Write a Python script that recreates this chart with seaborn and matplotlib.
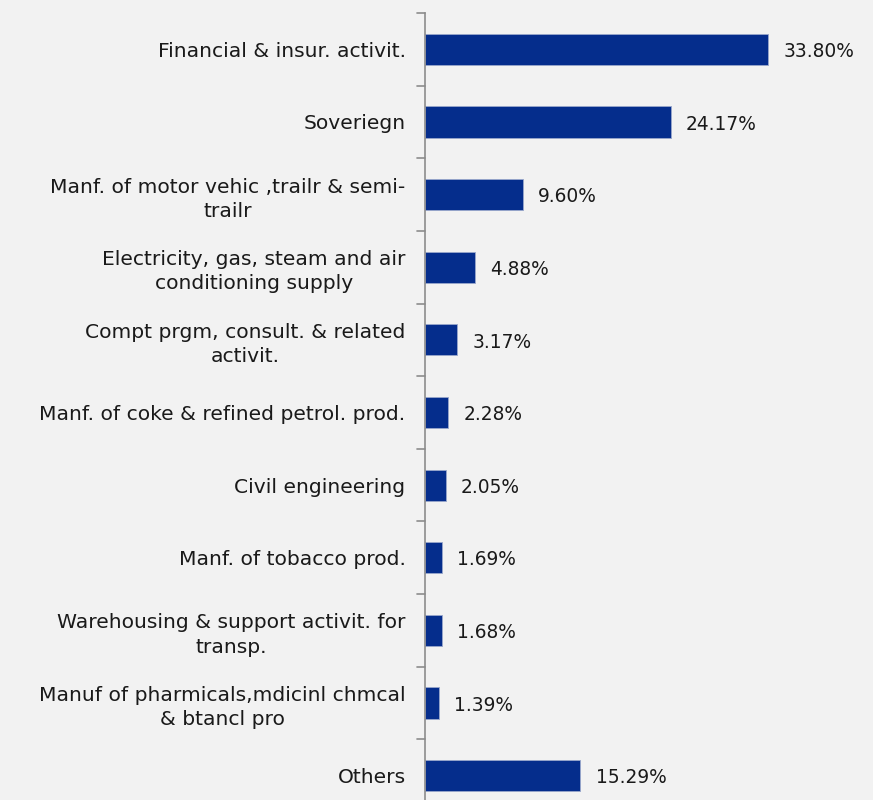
import matplotlib
matplotlib.use("Agg")
import matplotlib.pyplot as plt
import seaborn as sns
import pandas as pd

categories = [
    "Financial & insur. activit.",
    "Soveriegn",
    "Manf. of motor vehic ,trailr & semi-\ntrailr",
    "Electricity, gas, steam and air\nconditioning supply",
    "Compt prgm, consult. & related\nactivit.",
    "Manf. of coke & refined petrol. prod.",
    "Civil engineering",
    "Manf. of tobacco prod.",
    "Warehousing & support activit. for\ntransp.",
    "Manuf of pharmicals,mdicinl chmcal\n& btancl pro",
    "Others",
]
shares = [33.80, 24.17, 9.60, 4.88, 3.17, 2.28, 2.05, 1.69, 1.68, 1.39, 15.29]

df = pd.DataFrame({"sector": categories, "share": shares})

sns.set_theme(style="white")
plt.rcParams["font.family"] = ["DejaVu Sans"]

bg = "#f2f2f2"
bar_color = "#052d8c"
text_color = "#1a1a1a"
fs = 14.6

W, H = 873, 800
fig = plt.figure(figsize=(W / 100, H / 100), dpi=100, facecolor=bg)
# axes spans 425..873 px horizontally, 13..812 px from the top
ax = fig.add_axes([425 / W, (H - 812) / H, (W - 425) / W, 799 / H])
ax.set_facecolor(bg)

sns.barplot(data=df, y="sector", x="share", orient="h", color=bar_color,
            saturation=1, width=0.43, ax=ax, edgecolor="#9aa8cc", linewidth=0.6)

ax.set_xlim(0, 44.1)
ax.set_ylim(len(categories) - 0.5, -0.5)
ax.set_xlabel("")
ax.set_ylabel("")
ax.set_xticks([])

# category labels, multi-line ones centred on themselves
ax.set_yticks(range(len(categories)))
ax.set_yticklabels(categories, fontsize=fs, color=text_color)
for lab in ax.get_yticklabels():
    lab.set_multialignment("center")
    lab.set_linespacing(1.35)
ax.tick_params(axis="y", length=0, pad=14)

# boundary tick marks on the category axis
for b in [i - 0.5 for i in range(len(categories) + 1)]:
    ax.plot([-0.018, 0], [b, b], transform=ax.get_yaxis_transform(),
            color="#8c8c8c", lw=1.2, clip_on=False)

for s in ["top", "right", "bottom"]:
    ax.spines[s].set_visible(False)
ax.spines["left"].set_color("#8c8c8c")
ax.spines["left"].set_linewidth(1.2)

for i, v in enumerate(shares):
    ax.text(v + 1.5, i + 0.03, f"{v:.2f}%", va="center", ha="left",
            fontsize=13.4, color=text_color)

fig.savefig("out.png", dpi=100, facecolor=bg)
